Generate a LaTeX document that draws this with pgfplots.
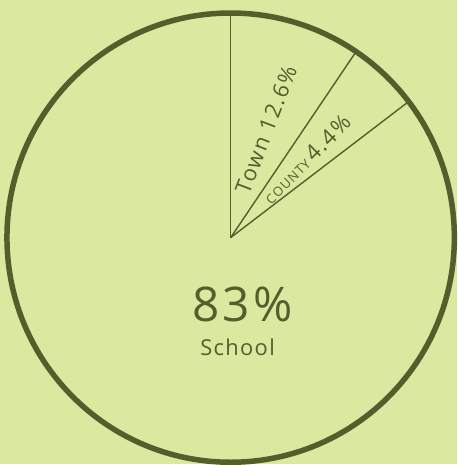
\documentclass[border=0pt]{standalone}
\usepackage{pgfplots}
\pgfplotsset{compat=1.18}
\usepackage{fontspec}
\setmainfont{Open Sans}

\definecolor{paper}{RGB}{218,232,160}
\definecolor{ink}{RGB}{84,94,44}

\begin{document}
\begin{tikzpicture}
  \fill[paper] (0,0) rectangle (458bp,465bp);
  \begin{axis}[
      at={(0,0)}, anchor=south west,
      scale only axis,
      width=458bp, height=465bp,
      xmin=-1.029, xmax=1.011,
      ymin=-1.011, ymax=1.060,
      hide axis, clip=false,
    ]
    % outer ring
    \draw[ink, line width=5.5bp] (axis cs:0,0) ellipse [x radius=0.998, y radius=1.002];
    % wedge boundaries (angles as drawn on the sheet)
    \addplot[ink, line width=1.4bp, no markers] coordinates {(0,0) (0,1)};
    \addplot[ink, line width=1.4bp, no markers] coordinates {(0,0) (0.559,0.829)};
    \addplot[ink, line width=1.4bp, no markers] coordinates {(0,0) (0.794,0.607)};
    % labels
    \node[ink, rotate=69, font=\fontsize{22}{22}\selectfont\addfontfeature{LetterSpace=8}]
      at (axis cs:0.158,0.482) {Town 12.6\%};
    \node[ink, rotate=45, font=\fontsize{22}{22}\selectfont\addfontfeature{LetterSpace=8}]
      at (axis cs:0.338,0.350)
      {{\fontsize{13}{13}\selectfont COUNTY}\,4.4\%};
    \node[ink, font=\fontsize{48}{48}\selectfont\addfontfeature{LetterSpace=6}] at (axis cs:0.053,-0.300) {83\%};
    \node[ink, font=\fontsize{22}{22}\selectfont\addfontfeature{LetterSpace=6}] at (axis cs:0.031,-0.488) {School};
  \end{axis}
\end{tikzpicture}
\end{document}
